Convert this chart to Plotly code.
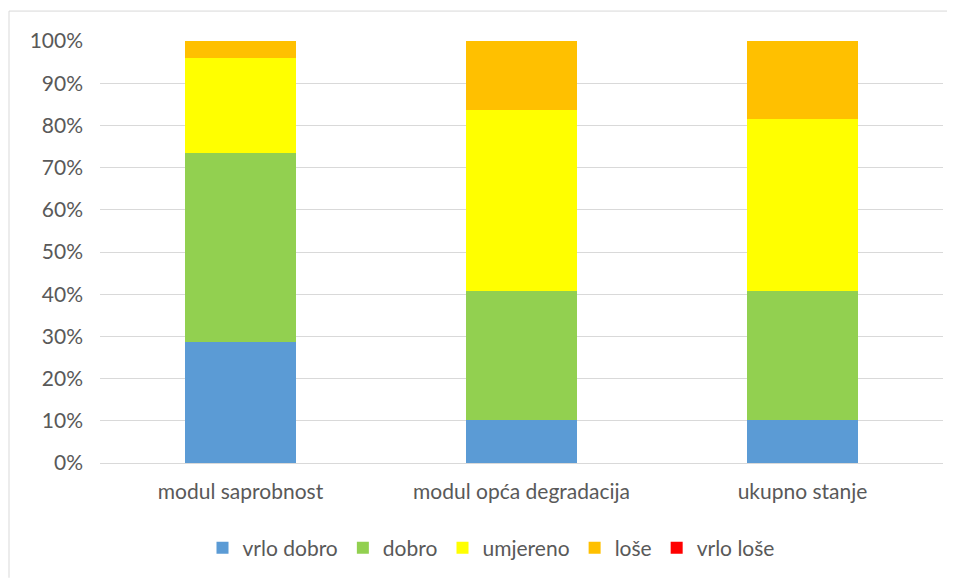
import plotly.graph_objects as go

categories = ["modul saprobnost", "modul opća degradacija", "ukupno stanje"]
series_names = ["vrlo dobro", "dobro", "umjereno", "loše", "vrlo loše"]
vrlo_dobro = [14, 5, 5]
dobro = [22, 15, 15]
umjereno = [11, 21, 20]
lose = [2, 8, 9]
vrlo_lose = [0, 0, 0]
colors = ["#5B9BD5", "#92D050", "#FFFF00", "#FFC000", "#FF0000"]
tick_vals = [0, 10, 20, 30, 40, 50, 60, 70, 80, 90, 100]
tick_text = [f"{v}%" for v in tick_vals]

# page has an 8px body margin, so the figure is slightly smaller and offset
W, H = 947, 571
L, R, T, B = 92, 12, 33, 115
pw, ph = W - L - R, H - T - B
FS = 21

fig = go.Figure()
for name, vals, col in zip(series_names, [vrlo_dobro, dobro, umjereno, lose, vrlo_lose], colors):
    fig.add_trace(go.Bar(name=name, x=categories, y=vals, marker=dict(color=col, line=dict(width=0))))

def px_x(p):
    return (p - L) / pw

def px_y(p):
    return (H - B - p) / ph

fig.update_layout(
    width=W, height=H,
    margin=dict(l=L, r=R, t=T, b=B),
    barmode="stack", barnorm="percent", bargap=0.605,
    plot_bgcolor="white", paper_bgcolor="white",
    font=dict(family="Lato, Carlito, sans-serif", size=FS, color="#595959"),
    xaxis=dict(showline=True, linecolor="#D9D9D9", linewidth=1, ticks="", tickfont=dict(size=FS),
               ticklabelstandoff=10),
    yaxis=dict(range=[0, 100], tickvals=tick_vals, ticktext=tick_text, showgrid=True,
               gridcolor="#D9D9D9", gridwidth=1, zeroline=False, ticks="", ticklabelstandoff=16,
               tickfont=dict(size=FS)),
    legend=dict(orientation="h", x=px_x(483), xanchor="center", y=px_y(540), yanchor="middle",
                font=dict(size=FS), itemwidth=30, traceorder="normal", tracegroupgap=0),
    shapes=[
        dict(type="line", xref="paper", yref="paper", x0=px_x(1), x1=px_x(W), y0=px_y(3), y1=px_y(3),
             line=dict(color="#D9D9D9", width=1)),
        dict(type="line", xref="paper", yref="paper", x0=px_x(1), x1=px_x(1), y0=px_y(3), y1=px_y(H),
             line=dict(color="#D9D9D9", width=1)),
    ],
)

fig.write_html("out.html")
